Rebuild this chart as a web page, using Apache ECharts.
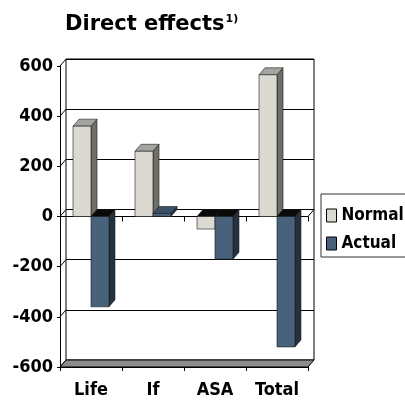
<!DOCTYPE html>
<html>
<head>
<meta charset="utf-8">
<script src="https://cdn.jsdelivr.net/npm/echarts@6/dist/echarts.min.js"></script>
<style>
  html, body { margin: 0; padding: 0; background: #fff; }
  #chart { width: 405px; height: 400px; }
</style>
</head>
<body>
<div id="chart"></div>
<script>
// Categories and values (direct effects)
const categories = ['Life', 'If', 'ASA', 'Total'];
const normalValues = [360, 260, -50, 565];
const actualValues = [-360, 12, -170, -520];
const yTicks = [-600, -400, -200, 0, 200, 400, 600];

const COND = "'DejaVu Sans Condensed', 'DejaVu Sans', sans-serif";
const DEPTH = [6, -7]; // offset of the back plane (x, y) in pixels

const normalColors = { front: '#dcd9d2', top: '#a4a49e', side: '#6f6f69', cap: '#0a0a0a' };
const actualColors = { front: '#48627c', top: '#3a5066', side: '#24323f', cap: '#0a0a0a' };

// Draws a 3D-looking column: front face, top face and right side face.
function makeBarRenderer(side, colors) {
  return function (params, api) {
    const c = api.value(0);
    const v = api.value(1);
    const p0 = api.coord([c, 0]);
    const p1 = api.coord([c, v]);
    const w = api.size([1, 0])[0] * 0.29;
    const x0 = side < 0 ? p0[0] - w : p0[0];
    const x1 = x0 + w;
    const yTop = Math.min(p0[1], p1[1]);
    const yBot = Math.max(p0[1], p1[1]);
    const dx = DEPTH[0], dy = DEPTH[1];
    const edge = { stroke: '#1a1a1a', lineWidth: 0.6 };
    return {
      type: 'group',
      children: [
        { type: 'polygon',
          shape: { points: [[x1, yTop], [x1 + dx, yTop + dy], [x1 + dx, yBot + dy], [x1, yBot]] },
          style: Object.assign({ fill: colors.side }, edge) },
        { type: 'polygon',
          shape: { points: [[x0, yTop], [x1, yTop], [x1 + dx, yTop + dy], [x0 + dx, yTop + dy]] },
          style: Object.assign({ fill: v < 0 ? colors.cap : colors.top }, edge) },
        { type: 'rect',
          shape: { x: x0, y: yTop, width: w, height: yBot - yTop },
          style: Object.assign({ fill: colors.front }, edge) }
      ]
    };
  };
}

// Left wall connectors, floor slab and right zero connector.
function renderFrame(params, api) {
  const cs = params.coordSys;
  const v = api.value(1);
  const y = api.coord([0, v])[1];
  const dx = DEPTH[0], dy = DEPTH[1];
  const children = [
    { type: 'line', shape: { x1: cs.x, y1: y, x2: cs.x + dx, y2: y + dy },
      style: { stroke: '#000', lineWidth: 1 } }
  ];
  if (v === 0) {
    const xr = cs.x + cs.width;
    children.push({ type: 'line', shape: { x1: xr, y1: y, x2: xr + dx, y2: y + dy },
      style: { stroke: '#000', lineWidth: 1 } });
  }
  if (params.dataIndex === 0) {
    const yb = cs.y + cs.height;
    const xl = cs.x, xr = cs.x + cs.width;
    children.push({ type: 'polygon',
      shape: { points: [[xl, yb], [xr, yb], [xr + dx, yb + dy], [xl + dx, yb + dy]] },
      style: { fill: '#8c8c8c', stroke: '#000', lineWidth: 1 } });
  }
  return { type: 'group', children: children };
}

const chart = echarts.init(document.getElementById('chart'), null, { renderer: 'canvas' });

const labelStyle = { fontFamily: COND, fontWeight: 'bold', fontSize: 18, color: '#000' };
const legendStyle = { fontFamily: COND, fontWeight: 'bold', fontSize: 17, color: '#000' };

chart.setOption({
  animation: false,
  backgroundColor: '#fff',
  title: {
    text: '{a|Direct effects}{b|1)}',
    left: 65,
    top: 14,
    padding: 0,
    textStyle: {
      rich: {
        a: { fontFamily: "'DejaVu Sans', sans-serif", fontWeight: 'bold', fontSize: 21, color: '#000' },
        b: { fontFamily: "'DejaVu Sans', sans-serif", fontSize: 11, color: '#000', verticalAlign: 'top', padding: [0, 0, 0, 1] }
      }
    }
  },
  legend: {
    data: [
      { name: 'Normal', itemStyle: { color: normalColors.front, borderColor: '#000', borderWidth: 1 } },
      { name: 'Actual', itemStyle: { color: actualColors.front, borderColor: '#000', borderWidth: 1 } }
    ],
    orient: 'vertical',
    left: 321,
    top: 194,
    padding: [13, 2, 5, 5],
    itemGap: 11,
    itemWidth: 10,
    itemHeight: 13,
    icon: 'rect',
    borderColor: '#333',
    borderWidth: 1,
    textStyle: legendStyle
  },
  grid: [
    { left: 60, top: 66, width: 248, height: 301, containLabel: false },
    { left: 66, top: 59, width: 248, height: 301, show: true, backgroundColor: '#fff', borderColor: '#000', borderWidth: 1, z: -1 }
  ],
  xAxis: [
    { type: 'category', gridIndex: 0, data: categories, position: 'bottom',
      axisLine: { onZero: false, lineStyle: { color: '#000', width: 1 } },
      axisTick: { show: true, length: 4, lineStyle: { color: '#000' } },
      axisLabel: Object.assign({ margin: 14 }, labelStyle),
      splitLine: { show: false } },
    { type: 'category', gridIndex: 0, data: categories, position: 'bottom',
      axisLine: { onZero: true, onZeroAxisIndex: 0, lineStyle: { color: '#000', width: 1 } },
      axisTick: { show: true, length: 5, lineStyle: { color: '#000' } },
      axisLabel: { show: false },
      splitLine: { show: false } },
    { type: 'category', gridIndex: 1, data: categories, show: false }
  ],
  yAxis: [
    { type: 'value', gridIndex: 0, min: -600, max: 600, interval: 200,
      axisLine: { show: true, lineStyle: { color: '#000', width: 1 } },
      axisTick: { show: true, length: 3, lineStyle: { color: '#000' } },
      axisLabel: Object.assign({ margin: 7 }, labelStyle),
      splitLine: { show: false } },
    { type: 'value', gridIndex: 1, min: -600, max: 600, interval: 200,
      axisLine: { show: false }, axisTick: { show: false }, axisLabel: { show: false },
      splitLine: { show: true, lineStyle: { color: '#000', width: 1 } } }
  ],
  series: [
    { type: 'custom', name: 'frame', xAxisIndex: 0, yAxisIndex: 0, z: 1, silent: true,
      renderItem: renderFrame, data: yTicks.map(v => [0, v]) },
    { type: 'custom', name: 'Normal', xAxisIndex: 0, yAxisIndex: 0, z: 2,
      itemStyle: { color: normalColors.front },
      renderItem: makeBarRenderer(-1, normalColors),
      data: normalValues.map((v, i) => [i, v]) },
    { type: 'custom', name: 'Actual', xAxisIndex: 0, yAxisIndex: 0, z: 3,
      itemStyle: { color: actualColors.front },
      renderItem: makeBarRenderer(1, actualColors),
      data: actualValues.map((v, i) => [i, v]) }
  ]
});
</script>
</body>
</html>
